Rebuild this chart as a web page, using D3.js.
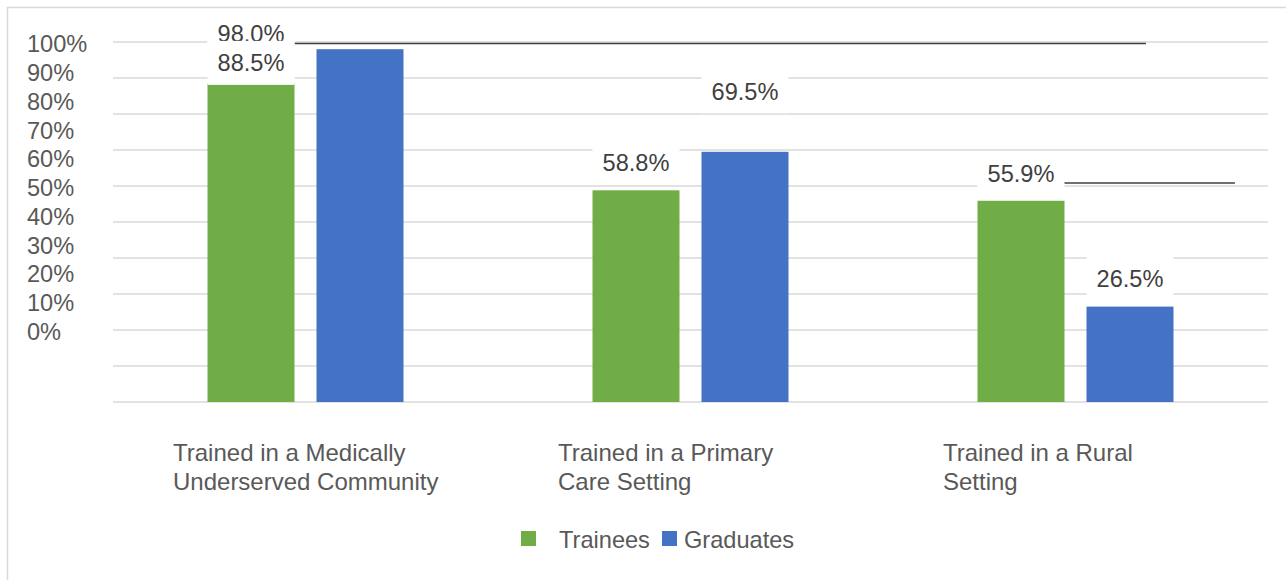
<!DOCTYPE html>
<html>
<head>
<meta charset="utf-8">
<script src="https://cdn.jsdelivr.net/npm/d3@7"></script>
<style>
  body { margin: 0; background: #fff; }
  text { font-family: "Liberation Sans", Arial, sans-serif; }
</style>
</head>
<body>
<script>
// categories and series
var categories = [
    ["Trained in a Medically", "Underserved Community"],
    ["Trained in a Primary", "Care Setting"],
    ["Trained in a Rural", "Setting"]
];
var seriesNames = ["Trainees", "Graduates"];
var trainees = [88.5, 58.8, 55.9];
var graduates = [98.0, 69.5, 26.5];
var yTicks = [0, 10, 20, 30, 40, 50, 60, 70, 80, 90, 100];

// data labels as they sit in the original (which bar they float over, and at what value height)
var labelBar = ["Trainees", "Trainees", "Trainees", "Graduates", "Trainees", "Graduates"];
var labelCat = [0, 0, 1, 1, 2, 2];
var labelText = [graduates[0], trainees[0], trainees[1], graduates[1], trainees[2], graduates[2]];
var labelAt = [102.4, 94.2, 66.4, 86.3, 63.5, 34.3];

// stray leader lines: [category, fraction start, category, fraction end, value]
var leaders = [[0, 0.46, 2, 0.683, 99.6], [2, 0.465, 2, 0.914, 60.8]];

var W = 1286, H = 580;
var green = "#70AD47", blue = "#4472C4";
var color = d3.scaleOrdinal().domain(seriesNames).range([green, blue]);

var svg = d3.select("body").append("svg")
    .attr("width", W)
    .attr("height", H);

// outer chart border (only top/left fall inside the window)
svg.append("rect")
    .attr("x", 7.5).attr("y", 7.5)
    .attr("width", 1300).attr("height", 600)
    .attr("fill", "none")
    .attr("stroke", "#d9d9d9")
    .attr("stroke-width", 1.5);

var x0 = d3.scaleBand()
    .domain(d3.range(categories.length))
    .range([113, 1268])
    .padding(0);
var x1 = d3.scaleBand()
    .domain(seriesNames)
    .range([94.5, 290.5])
    .paddingInner(22 / 109);
var y = d3.scaleLinear()
    .domain([0, 100])
    .range([402, 42]);
// tick labels in the original are spaced tighter than the gridlines
var yLab = d3.scaleLinear()
    .domain([0, 100])
    .range([331.5, 44]);

// gridlines
svg.append("g")
    .attr("class", "grid")
    .selectAll("line")
    .data(yTicks)
    .enter().append("line")
    .attr("x1", x0.range()[0])
    .attr("x2", x0.range()[1])
    .attr("y1", d => y(d))
    .attr("y2", d => y(d))
    .attr("stroke", "#d9d9d9")
    .attr("stroke-width", 1.6);

// y tick labels
svg.append("g")
    .selectAll("text")
    .data(yTicks)
    .enter().append("text")
    .attr("x", 27)
    .attr("y", d => yLab(d))
    .attr("dy", "0.36em")
    .attr("font-size", "23.6px")
    .attr("fill", "#595959")
    .text(d => d + "%");

// bars
var rows = categories.map((c, i) => ({ i: i, vals: [trainees[i], graduates[i]] }));
var groups = svg.selectAll(".group")
    .data(rows)
    .enter().append("g")
    .attr("class", "group")
    .attr("transform", d => "translate(" + x0(d.i) + ",0)");

groups.selectAll("rect")
    .data(d => seriesNames.map((s, k) => ({ key: s, value: d.vals[k] })))
    .enter().append("rect")
    .attr("x", d => x1(d.key))
    .attr("width", x1.bandwidth())
    .attr("y", d => y(d.value))
    .attr("height", d => y(0) - y(d.value))
    .attr("fill", d => color(d.key));

// leader lines
svg.append("g")
    .selectAll("line")
    .data(leaders)
    .enter().append("line")
    .attr("x1", d => x0(d[0]) + d[1] * x0.bandwidth())
    .attr("x2", d => x0(d[2]) + d[3] * x0.bandwidth())
    .attr("y1", d => y(d[4]))
    .attr("y2", d => y(d[4]))
    .attr("stroke", "#404040")
    .attr("stroke-width", 1.5);

// data labels with white boxes
var fmt = d3.format(".1f");
var labels = svg.append("g")
    .selectAll("g")
    .data(labelText.map((v, i) => ({ v: v, cat: labelCat[i], bar: labelBar[i], at: labelAt[i] })))
    .enter().append("g");

labels.append("rect")
    .attr("x", d => x0(d.cat) + x1(d.bar))
    .attr("width", x1.bandwidth())
    .attr("y", d => y(d.at) - 22)
    .attr("height", 44)
    .attr("fill", "#fff");

labels.append("text")
    .attr("x", d => x0(d.cat) + x1(d.bar) + x1.bandwidth() / 2)
    .attr("y", d => y(d.at))
    .attr("dy", "0.36em")
    .attr("text-anchor", "middle")
    .attr("font-size", "23.6px")
    .attr("fill", "#404040")
    .text(d => fmt(d.v) + "%");

// category labels (left-aligned block under each group)
var catText = svg.append("g")
    .selectAll("text")
    .data(categories)
    .enter().append("text")
    .attr("x", (d, i) => x0(i) + x0.bandwidth() / 2 - 132.5)
    .attr("y", 461)
    .attr("font-size", "24px")
    .attr("fill", "#595959");

catText.selectAll("tspan")
    .data(d => d)
    .enter().append("tspan")
    .attr("x", function () { return d3.select(this.parentNode).attr("x"); })
    .attr("dy", (d, i) => i === 0 ? 0 : 29)
    .text(d => d);

// legend
var legendX = [521, 662];
var legend = svg.append("g")
    .selectAll("g")
    .data(seriesNames)
    .enter().append("g")
    .attr("transform", (d, i) => "translate(" + legendX[i] + ",531)");

legend.append("rect")
    .attr("width", 15)
    .attr("height", 15)
    .attr("fill", d => color(d));

legend.append("text")
    .attr("x", (d, i) => i === 0 ? 38 : 22)
    .attr("y", 8)
    .attr("dy", "0.36em")
    .attr("font-size", "23.6px")
    .attr("fill", "#595959")
    .text(d => d);
</script>
</body>
</html>
